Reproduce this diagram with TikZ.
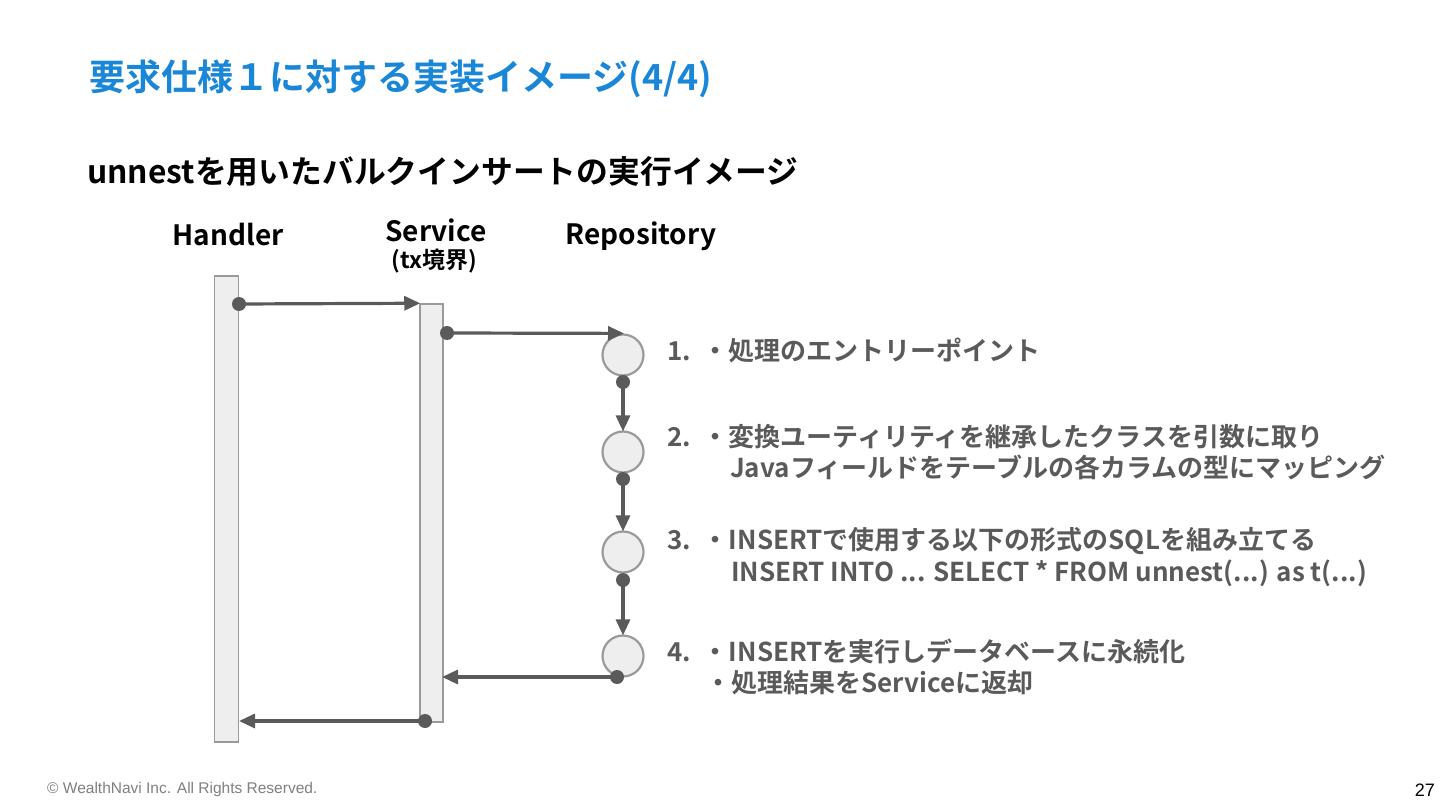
\documentclass[tikz,border=0pt]{standalone}
\usepackage{fontspec}
\setmainfont{Noto Sans CJK JP}
\newfontfamily\cjkb{Noto Sans CJK JP Bold}
\newfontfamily\foot{Liberation Sans}
\usetikzlibrary{arrows.meta}
\definecolor{ttl}{HTML}{1A86D8}
\definecolor{ln}{HTML}{5A5A5A}
\definecolor{barfill}{HTML}{EEEEEE}
\definecolor{barline}{HTML}{9A9A9A}
\definecolor{ftc}{HTML}{7F7F7F}
\tikzset{
  bar/.style={draw=barline, fill=barfill, line width=1.5pt, minimum width=24pt, inner sep=0pt},
  circ/.style={circle, draw=barline, fill=barfill, line width=2.2pt, minimum size=41pt, inner sep=0pt},
  arr/.style={draw=ln, line width=3.2pt, -{Triangle[length=16pt,width=14pt]}, shorten >=-1pt},
  dotc/.style={fill=ln},
  head/.style={font=\cjkb\fontsize{28}{32}\selectfont, text=black},
  item/.style={font=\cjkb\fontsize{26}{30}\selectfont, text=ln, anchor=west, inner sep=0pt},
}
\begin{document}
\begin{tikzpicture}[x=1pt,y=-1pt]
\useasboundingbox (0,0) rectangle (1440,810);
% titles
\node[anchor=west, inner sep=0pt, font=\cjkb\fontsize{36}{40}\selectfont, text=ttl] (title) at (89,79) {要求仕様１に対する実装イメージ(4/4)};
\node[anchor=west, inner sep=0pt, font=\cjkb\fontsize{31.8}{36}\selectfont, text=black] (sub) at (87,171) {unnestを用いたバルクインサートの実行イメージ};
% headers
\node[head] (hh) at (228,235) {Handler};
\node[head] (sh) at (436,230) {Service};
\node[font=\cjkb\fontsize{23}{26}\selectfont] (sh2) at (434.5,261) {(tx境界)};
\node[head] (rh) at (641,236) {Repository};
% bars
\node[bar, minimum height=466pt] (h) at (226.5,509) {};
\node[bar, minimum height=418pt, minimum width=23pt] (s) at (431.5,513) {};
% circles
\node[circ] (c1) at (623,355) {};
\node[circ] (c2) at (623,452) {};
\node[circ] (c3) at (623,552) {};
\node[circ] (c4) at (623,656) {};
% dot coordinates
\coordinate (d1) at (239,304);
\coordinate (d2) at (447,333);
\coordinate (d3) at (623,382);
\coordinate (d4) at (623,479);
\coordinate (d5) at (623,580);
\coordinate (d6) at (617,677);
\coordinate (d7) at (425,721);
\coordinate (e6) at (443,677);
\coordinate (e7) at (240,721);
% arrows
\draw[arr] (d1) -- (s.north west);
\draw[arr] (d2) -- (c1.north);
\draw[arr] (d3) -- (c2.north);
\draw[arr] (d4) -- (c3.north);
\draw[arr] (d5) -- (c4.north);
\draw[arr] (d6) -- (e6);
\draw[arr] (d7) -- (e7);
\foreach \d in {d1,d2,d3,d4,d5,d6,d7} \fill[dotc] (\d) circle (7pt);
% items
\node[item] (t1) at (667,350) {1.\hspace{12pt}・処理のエントリーポイント};
\node[item] (t2a) at (667,437) {2.\hspace{12pt}・変換ユーティリティを継承したクラスを引数に取り};
\node[item] (t2b) at (730,467) {Javaフィールドをテーブルの各カラムの型にマッピング};
\node[item] (t3a) at (667,541) {3.\hspace{12pt}・INSERTで使用する以下の形式のSQLを組み立てる};
\node[item] (t3b) at (731,573) {INSERT INTO ... SELECT * FROM unnest(...) as t(...)};
\node[item] (t4a) at (667,651) {4.\hspace{12pt}・INSERTを実行しデータベースに永続化};
\node[item] (t4b) at (705,683) {・処理結果をServiceに返却};
% footer
\node[anchor=west, inner sep=0pt, font=\foot\fontsize{15.5}{18}\selectfont, text=ftc] (ft) at (47,789) {© WealthNavi Inc. All Rights Reserved.};
\node[anchor=east, inner sep=0pt, font=\foot\fontsize{18}{20}\selectfont, text=black] (pg) at (1435,790) {27};
\end{tikzpicture}
\end{document}
